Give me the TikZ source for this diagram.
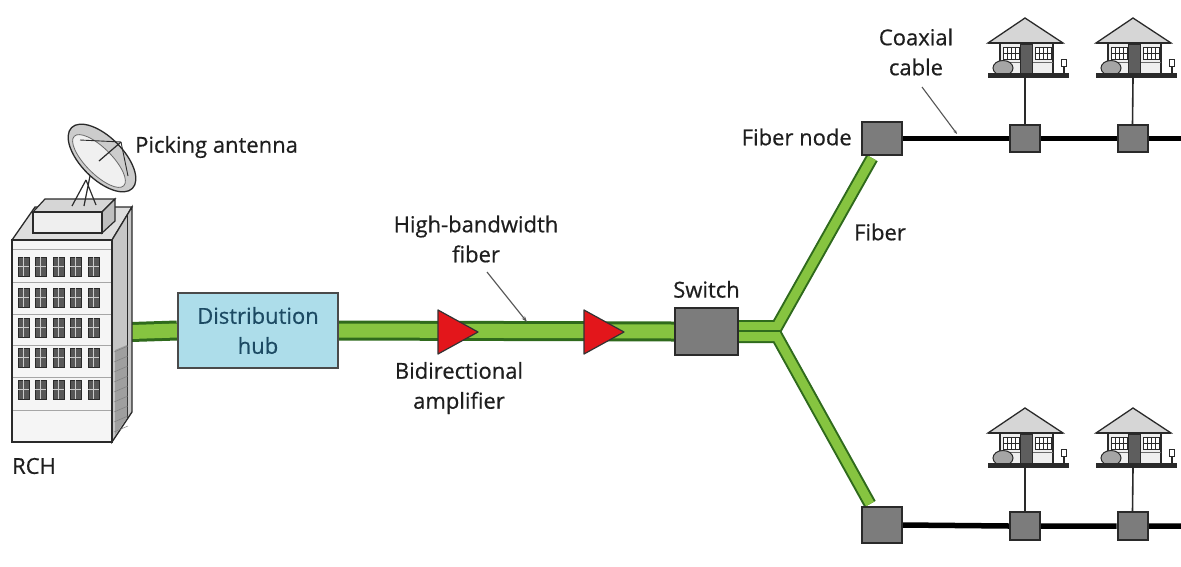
\documentclass[tikz,border=0pt]{standalone}
\usepackage{fontspec}
\setmainfont{Open Sans}
\newfontfamily\lblfont{Open Sans}[FakeBold=0.5]
\usetikzlibrary{arrows.meta,calc}
\definecolor{fibdark}{HTML}{2F6A1C}
\definecolor{fiblight}{HTML}{86C440}
\definecolor{dk}{HTML}{2A2A2A}
\definecolor{txt}{HTML}{1E1E1E}
\definecolor{boxgray}{HTML}{7C7C7C}
\definecolor{hubfill}{HTML}{ADDDEA}
\definecolor{hubtext}{HTML}{1C4A63}
\definecolor{ampred}{HTML}{E3161B}
\definecolor{rooffill}{HTML}{D6D6D6}
\definecolor{wallfill}{HTML}{EFEFEF}
\definecolor{doorgray}{HTML}{5E5E5E}
\definecolor{bushgray}{HTML}{A5A5A5}
\definecolor{winfill}{HTML}{575757}
\pgfdeclarelayer{bg}
\pgfsetlayers{bg,main}
\tikzset{
  lbl/.style={font=\lblfont\fontsize{22}{30}\selectfont, text=txt, inner sep=0pt, align=center},
  graybox/.style={draw=dk, fill=boxgray, line width=2pt, inner sep=0pt},
  fiber/.style={draw=fibdark, line width=3pt, double=fiblight, double distance=14pt},
  branch/.style={draw=fibdark, line width=2pt, double=fiblight, double distance=9pt},
  coax/.style={draw=black, line width=5.5pt},
  drop/.style={draw=dk, line width=1.6pt},
  pointer/.style={draw=dk!80, line width=1.1pt, -{Stealth[length=6pt,width=4pt]}},
  house/.pic={
    % roof
    \filldraw[fill=rooffill, draw=dk, line width=1.3pt] (0,-60) -- (-37,-35) -- (38,-35) -- cycle;
    \draw[dk, line width=2.6pt] (-37,-35) -- (38,-35);
    % walls
    \filldraw[fill=wallfill, draw=dk, line width=1.3pt] (-25,-35) rectangle (28,-4);
    \draw[dk!70, line width=0.8pt] (-25,-16) -- (28,-16);
    % windows and door
    \foreach \wx in {-22,10} {
      \filldraw[fill=white, draw=dk, line width=1pt] (\wx,-31) rectangle ++(16,12);
      \draw[dk, line width=0.8pt] (\wx+8,-31) -- ++(0,12) (\wx,-25) -- ++(16,0)
        (\wx+4,-31) -- ++(0,12) (\wx+12,-31) -- ++(0,12);
    }
    \filldraw[fill=doorgray, draw=dk, line width=1pt] (-5,-34) rectangle (7,-3);
    % bush and lamp post
    \filldraw[fill=bushgray, draw=dk, line width=1pt] (-22,-10) ellipse [x radius=10, y radius=7.5];
    \draw[dk, line width=1.2pt] (39,-3) -- (39,-13);
    \filldraw[fill=white, draw=dk, line width=1pt] (36.5,-19) rectangle (41.5,-12);
    % base
    \filldraw[fill=dk, draw=dk] (-37,-4.5) rectangle (43,-0.5);
  }
}
\begin{document}
\begin{tikzpicture}[x=1pt,y=-1pt]
\useasboundingbox (0,0) rectangle (1181,566);

% ---------- head-end building ----------
\filldraw[fill=rooffill!80, draw=dk, line width=1.3pt] (12,240) -- (35,207) -- (132,207) -- (112,240) -- cycle;
\filldraw[fill=gray!45, draw=dk, line width=1.3pt] (112,240) -- (132,207) -- (132,412) -- (112,442) -- cycle;
\draw[dk, line width=0.8pt] (127,214) -- (127,418);
\fill[gray!75] (115,350) -- (127,345) -- (127,418) -- (115,435) -- cycle;
\foreach \hy in {352,362,...,432} \draw[dk!60, line width=0.5pt] (114,\hy) -- (128,\hy-6);
\node[draw=dk, fill=wallfill!60, line width=1.3pt, minimum width=100pt, minimum height=202pt, inner sep=0pt] (bldg) at (62,341) {};
\foreach \fy in {249,282,314,345,377,410} \draw[gray!70, line width=0.7pt] (13,\fy) -- (111,\fy);
\foreach \wx in {18,35,53,70,88} {
  \foreach \wy in {257,288,318,348,380} {
    \filldraw[fill=winfill, draw=dk] (\wx,\wy) rectangle ++(11,19);
    \draw[gray!40, line width=0.6pt] (\wx+5.5,\wy) -- ++(0,19) (\wx,\wy+9.5) -- ++(11,0);
  }
}
% rooftop housing
\filldraw[fill=rooffill, draw=dk, line width=1.2pt] (33,212) -- (45,199) -- (115,199) -- (102,212) -- cycle;
\filldraw[fill=gray!50, draw=dk, line width=1.2pt] (102,212) -- (115,199) -- (115,221) -- (102,233) -- cycle;
\filldraw[fill=wallfill, draw=dk, line width=1.2pt] (33,212) rectangle (102,233);
% satellite dish
\draw[dk, line width=1.2pt] (86,180) -- (72,206) (86,180) -- (96,205) (90,176) -- (84,206);
\filldraw[fill=gray!40, draw=dk, line width=1.3pt, rotate around={-45:(102,158)}] (102,158) ellipse [x radius=43, y radius=21];
\filldraw[fill=gray!12, draw=dk!70, line width=0.8pt, rotate around={-45:(99,161)}] (99,161) ellipse [x radius=35, y radius=13];
\draw[dk, line width=1.2pt] (99,161) -- (121,142);
\draw[dk, line width=0.9pt] (80,140) -- (121,142) (128,176) -- (121,142);
\node[lbl, anchor=west] (antlbl) at (135,147) {Picking antenna};
\node[lbl] (rchlbl) at (34,466) {RCH};
\coordinate (bport) at (131,332);

% ---------- distribution and trunk ----------
\node[draw=dk!85, fill=hubfill, line width=2pt, minimum width=160pt, minimum height=75pt,
      inner sep=0pt, lbl, text=hubtext] (hub) at (258,330.5) {Distribution\\hub};
\node[graybox, minimum width=63pt, minimum height=47pt] (sw) at (706.5,331.5) {};
\node[lbl, anchor=south] (swlbl) at ($(sw.north)+(0,-9)$) {Switch};

\coordinate (amp1) at (438,332);
\coordinate (amp2) at (584,332);
\foreach \a in {amp1,amp2}
  \filldraw[fill=ampred, draw=black!80, line width=1.2pt, line join=round]
    ($(\a)+(0,-22)$) -- ($(\a)+(40,0)$) -- ($(\a)+(0,22)$) -- cycle;

\node[lbl] (hbf) at (476,239) {High-bandwidth\\fiber};
\coordinate (hbftip) at (527,322);
\coordinate (hbftail) at (487,272);
\draw[pointer] (hbftail) -- (hbftip);
\node[lbl] (amplbl) at (459,388) {Bidirectional\\amplifier};

% ---------- fiber nodes, taps and homes ----------
\node[graybox, minimum width=40pt, minimum height=33pt] (fn1) at (882,138.5) {};
\node[graybox, minimum width=40pt, minimum height=36pt] (fn2) at (882,525) {};
\node[lbl, anchor=east] (fnlbl) at (852,137) {Fiber node};
\node[lbl] (fiblbl) at (880,232) {Fiber};

\node[graybox, minimum width=30pt, minimum height=27pt] (t11) at (1025,138.5) {};
\node[graybox, minimum width=30pt, minimum height=27pt] (t12) at (1132.5,138.5) {};
\node[graybox, minimum width=30pt, minimum height=28pt] (t21) at (1025,526) {};
\node[graybox, minimum width=30pt, minimum height=28pt] (t22) at (1132.5,526) {};
\coordinate (end1) at (1181,138.5);
\coordinate (end2) at (1181,526);

\pic at (1025,78) {house}; \coordinate (h11) at (1025,78);
\pic at (1133,78) {house}; \coordinate (h12) at (1133,78);
\pic at (1025,468) {house}; \coordinate (h21) at (1025,468);
\pic at (1133,468) {house}; \coordinate (h22) at (1133,468);

\node[lbl] (coaxlbl) at (916,52) {Coaxial\\cable};
\coordinate (coaxtail) at (922,87);
\coordinate (coaxtip) at (957,134);
\draw[pointer, -{Stealth[length=4pt,width=3pt]}] (coaxtail) -- (coaxtip);

% ---------- page and cables, behind everything ----------
\begin{pgfonlayer}{bg}
  \fill[white] (0,0) rectangle (1181,566);
  \draw[fiber] (bport) -- (hub.west);
  \draw[fiber] (hub.east) -- (sw.west);
  \draw[branch] ($(sw.east)+(-2,-5)$) -- ($(sw.east)+(38,-5)$) -- ($(fn1.south)+(-10,2)$);
  \draw[branch] ($(sw.east)+(-2,5)$) -- ($(sw.east)+(38,5)$) -- ($(fn2.north)+(-12,-2)$);
  \draw[coax] (fn1.east) -- (t11.west) (t11.east) -- (t12.west) (t12.east) -- (end1);
  \draw[coax] (fn2.east) -- (t21.west) (t21.east) -- (t22.west) (t22.east) -- (end2);
  \draw[drop] (h11) -- (t11.north) (h12) -- (t12.north) (h21) -- (t21.north) (h22) -- (t22.north);
\end{pgfonlayer}
\end{tikzpicture}
\end{document}
